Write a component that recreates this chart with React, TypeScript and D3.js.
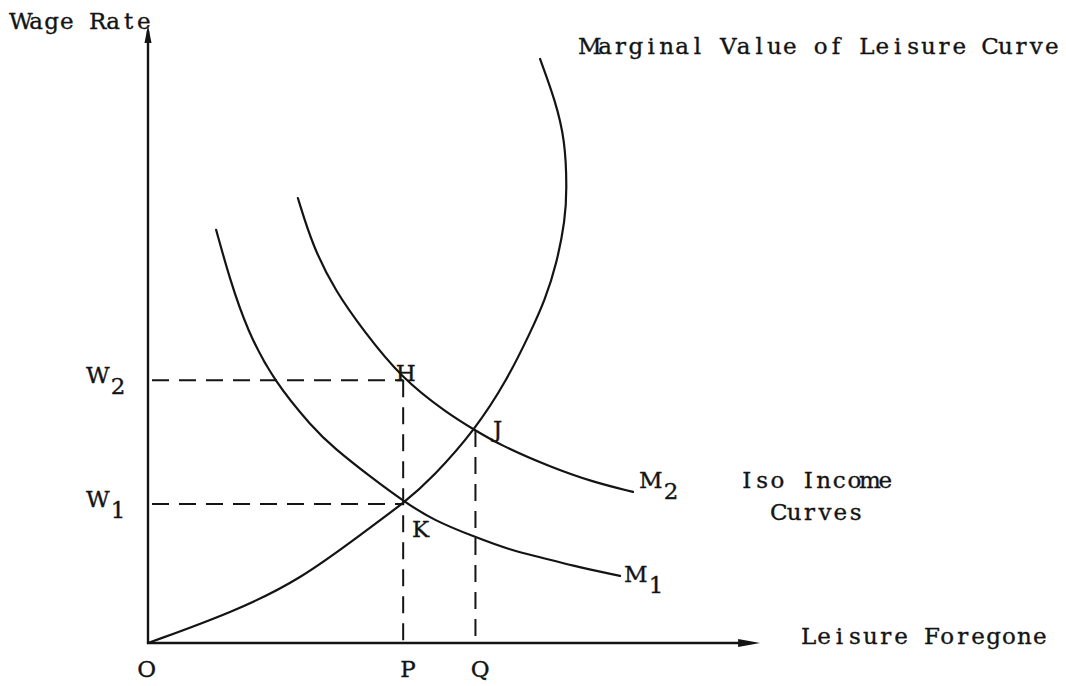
import React from 'react';
import * as d3 from 'd3';

// curve points (x = leisure foregone, y = wage rate)
const mvlX = [0, 2.88, 5.15, 7.42, 8.71, 9.66, 11.08, 12.17, 12.95, 13.46, 13.86, 14.14, 14.2, 14.14, 13.8, 13.29];
const mvlY = [0, 1.0, 2.04, 3.66, 4.56, 5.37, 6.89, 8.51, 10.03, 11.1, 12.3, 13.69, 14.66, 16.28, 17.57, 18.9];

const m1X = [2.31, 2.78, 3.36, 4.24, 5.59, 6.27, 7.59, 8.71, 9.66, 11.08, 12.27, 13.29, 14.31, 16.0];
const m1Y = [13.37, 11.75, 10.13, 8.51, 6.96, 6.34, 5.34, 4.56, 3.98, 3.43, 3.01, 2.78, 2.52, 2.17];

const m2X = [5.08, 5.59, 6.37, 7.29, 8.58, 10.14, 11.08, 11.93, 13.63, 15.08, 16.44];
const m2Y = [14.4, 12.82, 11.36, 10.13, 8.58, 7.44, 6.89, 6.41, 5.7, 5.21, 4.89];

// reference levels
const wageLevels = [4.5, 8.5]; // W1, W2
const wageNames = ['1', '2'];
const quantityLevels = [8.65, 11.1]; // P, Q
const quantityNames = ['P', 'Q'];
const pointJ = [11.08, 6.89];
const axisMax = [20.75, 20];

const W = 1066;
const H = 686;
const FONT = '"DejaVu Serif", "Liberation Serif", serif';
const INK = '#141414';
const ADV = 15.4; // typewriter pitch

const x = d3.scaleLinear().domain([0, 20]).range([148, 738]);
const y = d3.scaleLinear().domain([0, 20]).range([643, 25]);

const line = d3
  .line<[number, number]>()
  .x(d => x(d[0]))
  .y(d => y(d[1]))
  .curve(d3.curveBasis);

const zip = (xs: number[], ys: number[]) => xs.map((v, i) => [v, ys[i]] as [number, number]);

// typed text: every glyph centred in a fixed-pitch cell, optional subscript
const Typed = ({ s, x0, y0, sub }: { s: string; x0: number; y0: number; sub?: string }) => {
  const xs = s.split('').map((_, i) => (x0 + ADV * (i + 0.5)).toFixed(1)).join(' ');
  return (
    <text x={xs} y={y0} textAnchor="middle">
      {s}
      {sub && (
        <tspan x={x0 + ADV * (s.length + 0.5) + 5} dy={11}>{sub}</tspan>
      )}
    </text>
  );
};

export default function App() {
  const x0 = x(0);
  const y0 = y(0);
  const xEnd = x(axisMax[0]);
  const yEnd = y(axisMax[1]);
  const [w1, w2] = wageLevels;
  const [p, q] = quantityLevels;

  const dash = '17 10';

  return (
    <svg
      width={W}
      height={H}
      style={{ position: 'absolute', left: 0, top: 0, background: '#fff' }}
    >
      {/* axes */}
      <g stroke={INK} strokeWidth={2.4} fill="none">
        <line x1={x0} y1={y0 + 1} x2={x0} y2={yEnd + 6} />
        <line x1={x0 - 1} y1={y0} x2={xEnd - 10} y2={y0} />
      </g>
      <path
        d={`M${x0},${yEnd} L${x0 - 3.5},${yEnd + 18} L${x0 + 3.5},${yEnd + 18} Z`}
        fill={INK}
      />
      <path
        d={`M${xEnd},${y0} L${xEnd - 22},${y0 - 4} L${xEnd - 22},${y0 + 4} Z`}
        fill={INK}
      />

      {/* dashed guides */}
      <g stroke={INK} strokeWidth={2} strokeDasharray={dash} fill="none">
        <line x1={x0 + 4} y1={y(w2)} x2={x(p)} y2={y(w2)} />
        <line x1={x0 + 4} y1={y(w1)} x2={x(p)} y2={y(w1)} />
        <line x1={x(p)} y1={y(w2)} x2={x(p)} y2={y0 - 2} />
        <line x1={x(q)} y1={y(pointJ[1])} x2={x(q)} y2={y0 - 2} />
      </g>

      {/* curves */}
      <g stroke={INK} strokeWidth={2.2} fill="none" strokeLinecap="round">
        <path d={line(zip(mvlX, mvlY)) ?? ''} />
        <path d={line(zip(m1X, m1Y)) ?? ''} />
        <path d={line(zip(m2X, m2Y)) ?? ''} />
      </g>

      {/* labels */}
      <g fontFamily={FONT} fontSize={23} fill={INK} stroke={INK} strokeWidth={0.35}>
        <Typed s="Wage Rate" x0={13} y0={29} />
        <Typed s="Marginal Value of Leisure Curve" x0={582} y0={54} />
        <Typed s="Leisure Foregone" x0={801} y0={644} />
        <Typed s="Iso Income" x0={739} y0={488} />
        <Typed s="Curves" x0={771} y0={520} />

        {wageLevels.map((v, i) => (
          <Typed key={'w' + i} s="W" sub={wageNames[i]} x0={90} y0={y(v) + 3} />
        ))}

        <Typed s="O" x0={x0 - 9} y0={677} />
        {quantityLevels.map((v, i) => (
          <Typed key={'q' + i} s={quantityNames[i]} x0={x(v) - 3} y0={677} />
        ))}

        <Typed s="H" x0={398} y0={381} />
        <Typed s="J" x0={490} y0={437} />
        <Typed s="K" x0={413} y0={537} />
        <Typed s="M" sub="2" x0={643} y0={488} />
        <Typed s="M" sub="1" x0={628} y0={582} />
      </g>
    </svg>
  );
}
